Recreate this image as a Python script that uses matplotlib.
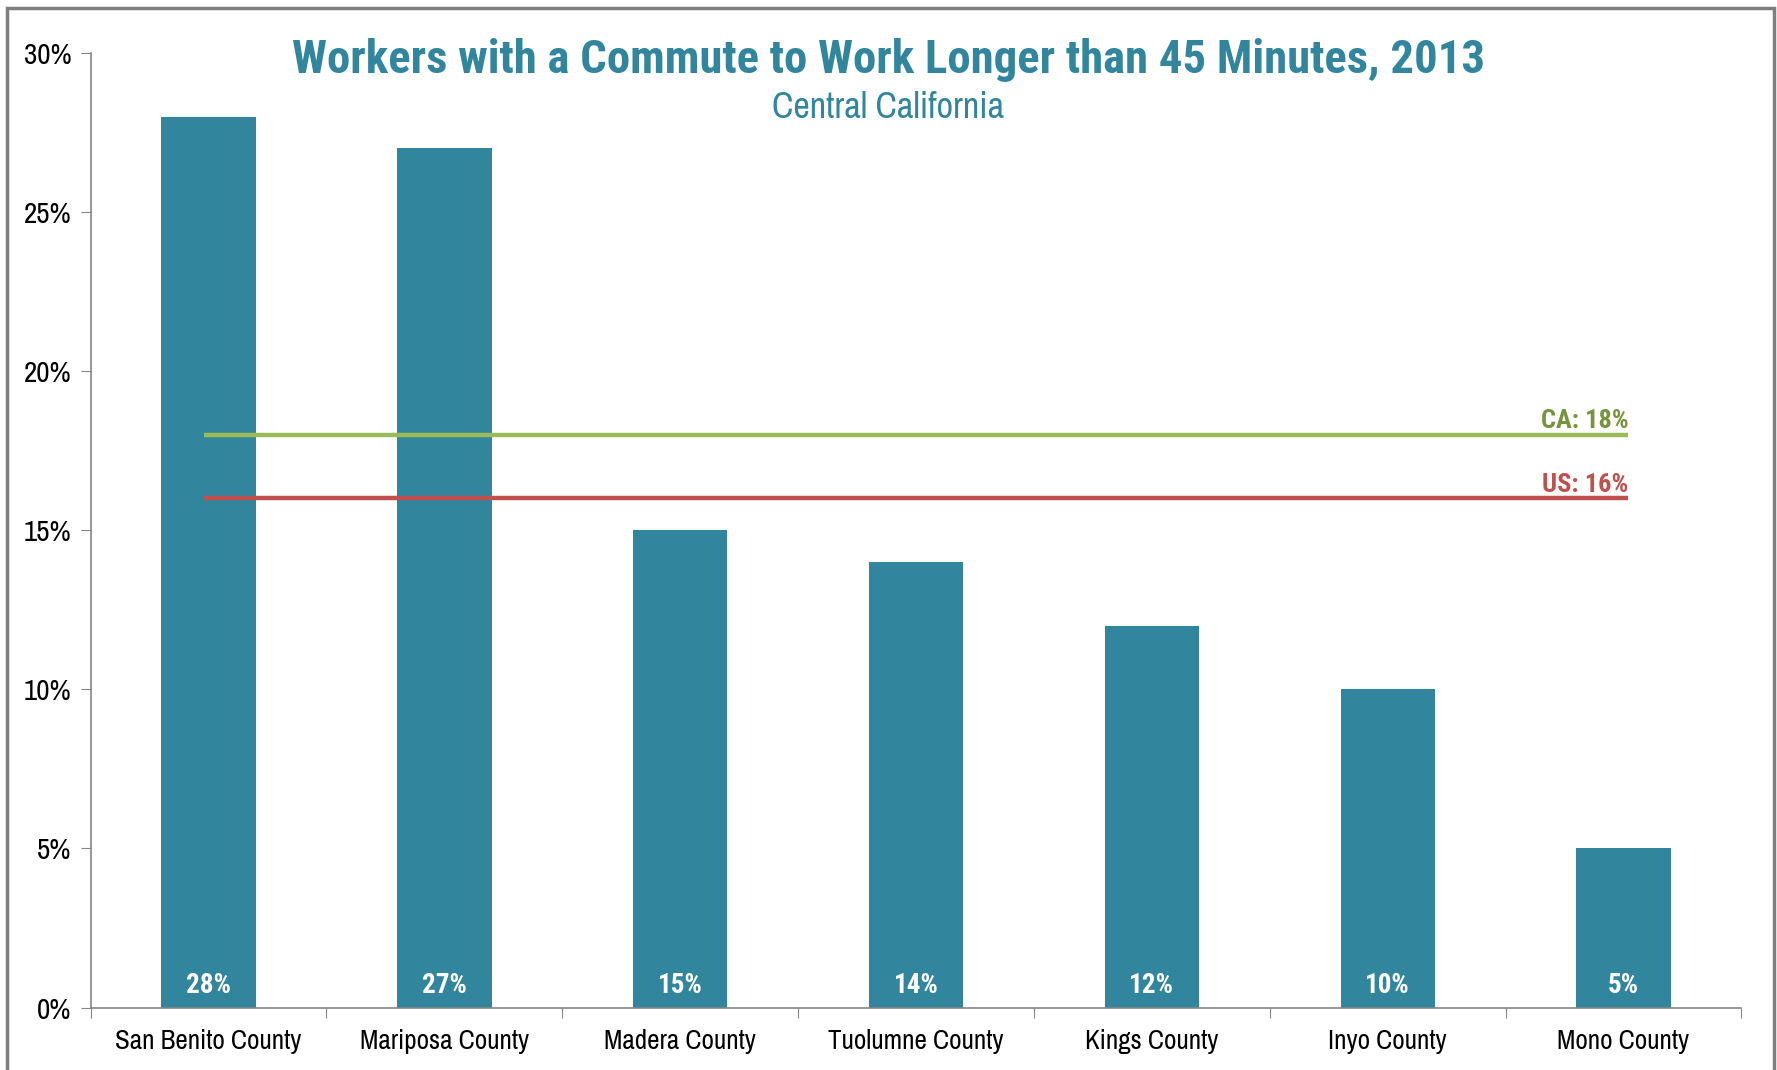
import matplotlib
matplotlib.use("Agg")
import matplotlib.pyplot as plt
from matplotlib.patches import Rectangle

counties = ["San Benito County", "Mariposa County", "Madera County", "Tuolumne County",
            "Kings County", "Inyo County", "Mono County"]
values = [28, 27, 15, 14, 12, 10, 5]
ca_value = 18
us_value = 16
yticks = [0, 5, 10, 15, 20, 25, 30]

TEAL = "#31859C"
GREEN_LINE = "#9BBB59"
GREEN_TEXT = "#77933C"
RED = "#C0504D"
GRAY = "#868686"
NARROW = ["Archivo Narrow", "Roboto Condensed", "Liberation Sans", "DejaVu Sans"]
NARROW_B = ["Roboto Condensed", "Liberation Sans", "DejaVu Sans"]

W, H = 1777, 1070
fig = plt.figure(figsize=(W / 100, H / 100), dpi=100)
fig.patches.append(Rectangle((7 / W, -0.05), (1774 - 7) / W, 1.05 - 8 / H,
                             transform=fig.transFigure, fill=False,
                             edgecolor="#7f7f7f", linewidth=2.5))

ax = fig.add_axes([0.051, 0.0584, 0.929, 0.8921])
x = list(range(len(counties)))
ax.bar(x, values, width=0.40, color=TEAL, zorder=2)

for xi, v in zip(x, values):
    ax.text(xi, 0.45, f"{v}%", ha="center", va="baseline", color="white",
            fontsize=19.5, fontweight="bold", family=NARROW_B, zorder=4)

ax.hlines(ca_value, -0.02, 6.02, color=GREEN_LINE, linewidth=3.2, zorder=3)
ax.hlines(us_value, -0.02, 6.02, color=RED, linewidth=3.2, zorder=3)
ax.text(6.02, ca_value + 0.2, f"CA: {ca_value}%", ha="right", va="baseline",
        color=GREEN_TEXT, fontsize=19, fontweight="bold", family=NARROW_B)
ax.text(6.02, us_value + 0.2, f"US: {us_value}%", ha="right", va="baseline",
        color=RED, fontsize=19, fontweight="bold", family=NARROW_B)

ax.set_xlim(-0.5, 6.5)
ax.set_ylim(0, 30)
ax.set_yticks(yticks)
ax.set_yticklabels([f"{t}%" for t in yticks], family=NARROW, fontsize=21)
ax.set_xticks([i - 0.5 for i in range(len(counties) + 1)])
ax.set_xticklabels([])
ax.set_xticks(x, minor=True)
ax.set_xticklabels(counties, minor=True, family=NARROW, fontsize=19.5)
ax.tick_params(axis="x", which="minor", length=0, pad=15.5)
ax.tick_params(axis="x", which="major", length=7, color=GRAY, direction="out")
ax.tick_params(axis="y", length=7, color=GRAY, direction="out", pad=7)
for s in ["top", "right"]:
    ax.spines[s].set_visible(False)
for s in ["left", "bottom"]:
    ax.spines[s].set_color(GRAY)
    ax.spines[s].set_linewidth(1.2)

fig.text(0.5, 1 - 72.5 / H, "Workers with a Commute to Work Longer than 45 Minutes, 2013",
         ha="center", va="baseline", color=TEAL, fontsize=33.7, fontweight="bold",
         family=NARROW_B)
fig.text(0.5, 1 - 118 / H, "Central California", ha="center", va="baseline",
         color=TEAL, fontsize=26, family=NARROW)

fig.savefig("out.png", dpi=100)
